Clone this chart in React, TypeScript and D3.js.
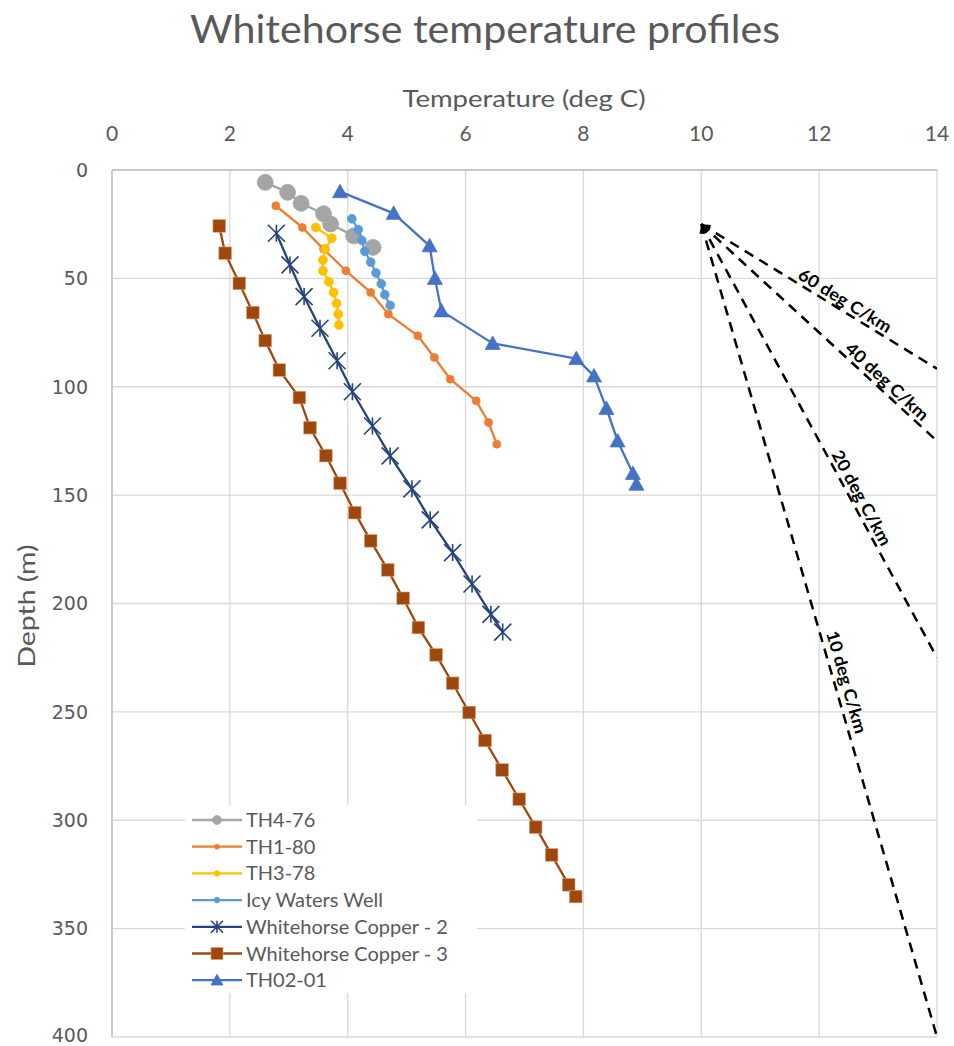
import React from "react";
import * as d3 from "d3";

const W = 954;
const H = 1046;
const margin = { top: 170, right: 17, bottom: 9, left: 112 };

// temperature (deg C) vs depth (m)
const th476Temp = [2.6, 2.98, 3.21, 3.59, 3.71, 4.1, 4.43];
const th476Depth = [5.7, 10.3, 15.4, 20.2, 24.9, 30.4, 35.7];

const th180Temp = [2.78, 3.23, 3.59, 3.97, 4.39, 4.69, 5.19, 5.47, 5.74, 6.18, 6.39, 6.53];
const th180Depth = [16.5, 26.5, 36.5, 46.5, 56.5, 66.5, 76.5, 86.5, 96.5, 106.5, 116.5, 126.5];

const th378Temp = [3.46, 3.73, 3.62, 3.58, 3.58, 3.68, 3.76, 3.81, 3.84, 3.85];
const th378Depth = [26.5, 31.5, 36.5, 41.5, 46.5, 51.5, 56.5, 61.5, 66.5, 71.5];

const icyTemp = [4.07, 4.18, 4.24, 4.29, 4.39, 4.48, 4.57, 4.63, 4.72];
const icyDepth = [22.5, 27.5, 32.5, 37.5, 42.5, 47.5, 52.5, 57.5, 62.5];

const wc2Temp = [2.79, 3.02, 3.26, 3.53, 3.82, 4.08, 4.42, 4.72, 5.09, 5.4, 5.78, 6.11, 6.43, 6.63];
const wc2Depth = [29.2, 43.8, 58.4, 73.0, 88.0, 102.3, 118.1, 131.9, 147.1, 161.4, 176.5, 191.0, 205.0, 213.2];

const wc3Temp = [1.82, 1.92, 2.16, 2.39, 2.6, 2.84, 3.18, 3.36, 3.63, 3.87, 4.12, 4.39, 4.68, 4.94, 5.2, 5.5, 5.78, 6.06, 6.33, 6.62, 6.91, 7.19, 7.46, 7.75, 7.87];
const wc3Depth = [25.8, 38.4, 52.3, 65.8, 78.7, 92.3, 105.0, 118.9, 131.8, 144.5, 158.1, 171.1, 184.5, 197.6, 211.1, 223.7, 236.8, 250.3, 263.2, 276.8, 290.3, 303.2, 316.0, 329.8, 335.2];

const th0201Temp = [3.87, 4.78, 5.39, 5.48, 5.59, 6.46, 7.88, 8.18, 8.39, 8.58, 8.84, 8.9];
const th0201Depth = [10, 20, 35, 50, 65, 80, 87, 95, 110, 125, 140, 145];

// reference gradients drawn from (10 C, 25 m)
const gradLabels = ["60 deg C/km", "40 deg C/km", "20 deg C/km", "10 deg C/km"];
const gradStart = [10, 25];
const gradEndTemp = [14, 14, 14, 14];
const gradEndDepth = [91.7, 125, 225, 400];
const gradLabelTemp = [12.35, 13.04, 12.57, 12.27];

const xTicks = [0, 2, 4, 6, 8, 10, 12, 14];
const yTicks = [0, 50, 100, 150, 200, 250, 300, 350, 400];

type Marker = "circle" | "star" | "square" | "triangle";

const series = [
  { name: "TH4-76", temp: th476Temp, depth: th476Depth, color: "#A5A5A5", marker: "circle" as Marker, size: 8, legendSize: 4.5 },
  { name: "TH1-80", temp: th180Temp, depth: th180Depth, color: "#ED7D31", marker: "circle" as Marker, size: 4, legendSize: 2.5 },
  { name: "TH3-78", temp: th378Temp, depth: th378Depth, color: "#FFC000", marker: "circle" as Marker, size: 4.5, legendSize: 2.8 },
  { name: "Icy Waters Well", temp: icyTemp, depth: icyDepth, color: "#5B9BD5", marker: "circle" as Marker, size: 4.4, legendSize: 2.8 },
  { name: "Whitehorse Copper - 2", temp: wc2Temp, depth: wc2Depth, color: "#264478", marker: "star" as Marker, size: 8.5, legendSize: 6 },
  { name: "Whitehorse Copper - 3", temp: wc3Temp, depth: wc3Depth, color: "#9E480E", marker: "square" as Marker, size: 6.3, legendSize: 6 },
  { name: "TH02-01", temp: th0201Temp, depth: th0201Depth, color: "#4472C4", marker: "triangle" as Marker, size: 7.5, legendSize: 6 },
];

const FONT = "Lato, 'Open Sans', sans-serif";
const GREY = "#595959";

function MarkerShape({ type, x, y, s, color }: { type: Marker; x: number; y: number; s: number; color: string }) {
  if (type === "circle") return <circle cx={x} cy={y} r={s} fill={color} stroke={color} strokeWidth={0.75} />;
  if (type === "square")
    return <rect x={x - s} y={y - s} width={2 * s} height={2 * s} fill={color} stroke="#d9a07a" strokeWidth={0.6} />;
  if (type === "triangle")
    return <path d={`M${x},${y - s}L${x + s},${y + s * 0.8}L${x - s},${y + s * 0.8}Z`} fill={color} stroke={color} strokeWidth={0.75} />;
  const d = s;
  return (
    <path
      d={`M${x - d},${y - d}L${x + d},${y + d}M${x - d},${y + d}L${x + d},${y - d}M${x},${y - d}L${x},${y + d}`}
      stroke={color}
      strokeWidth={1.6}
      fill="none"
    />
  );
}

export default function App() {
  const innerW = W - margin.left - margin.right;
  const innerH = H - margin.top - margin.bottom;
  const x = d3.scaleLinear().domain([0, 14]).range([margin.left, margin.left + innerW]);
  const y = d3.scaleLinear().domain([0, 400]).range([margin.top, margin.top + innerH]);

  const line = d3
    .line<[number, number]>()
    .x((d) => x(d[0]))
    .y((d) => y(d[1]));

  const legendX = 185;
  const legendY = 805;
  const rowH = 26.7;

  return (
    <svg width={W} height={H} style={{ position: "absolute", left: 0, top: 0, background: "#fff" }}>
      <defs>
        <marker id="arrow" viewBox="0 0 10 10" refX="10" refY="5" markerWidth="4" markerHeight="3.6" orient="auto-start-reverse">
          <path d="M0,0L10,5L0,10Z" fill="#000" />
        </marker>
        <clipPath id="plot">
          <rect x={margin.left} y={margin.top} width={innerW} height={innerH} />
        </clipPath>
      </defs>
      <rect width={W} height={H} fill="#fff" />

      {/* title */}
      <text x={485} y={43} textAnchor="middle" fontFamily={FONT} fontSize={38} fill={GREY} textLength={590} lengthAdjust="spacingAndGlyphs">
        Whitehorse temperature profiles
      </text>

      {/* grid */}
      {xTicks.map((t) => (
        <line key={"gx" + t} x1={x(t)} x2={x(t)} y1={y(0)} y2={y(400)} stroke="#D9D9D9" strokeWidth={1.3} />
      ))}
      {yTicks.map((t) => (
        <line key={"gy" + t} x1={x(0)} x2={x(14)} y1={y(t)} y2={y(t)} stroke="#D9D9D9" strokeWidth={1.3} />
      ))}
      <line x1={x(0)} x2={x(0)} y1={y(0)} y2={y(400)} stroke="#BFBFBF" strokeWidth={1.3} />
      <line x1={x(0)} x2={x(14)} y1={y(0)} y2={y(0)} stroke="#BFBFBF" strokeWidth={1.3} />

      {/* axis tick labels */}
      {xTicks.map((t) => (
        <text key={"tx" + t} x={x(t)} y={141} textAnchor="middle" fontFamily={FONT} fontSize={21} fill={GREY}>
          {t}
        </text>
      ))}
      {yTicks.map((t) => (
        <text
          key={"ty" + t}
          x={88}
          y={Math.min(y(t), 1035)}
          dy="0.36em"
          textAnchor="end"
          fontFamily="'DejaVu Sans', sans-serif"
          fontSize={19}
          fill={GREY}
        >
          {t}
        </text>
      ))}

      <text x={524} y={107} textAnchor="middle" fontFamily={FONT} fontSize={23} fill={GREY} textLength={243} lengthAdjust="spacingAndGlyphs">
        Temperature (deg C)
      </text>
      <text
        transform={`translate(35,606) rotate(-90)`}
        textAnchor="middle"
        fontFamily={FONT}
        fontSize={23}
        fill={GREY}
        textLength={123}
        lengthAdjust="spacingAndGlyphs"
      >
        Depth (m)
      </text>

      {/* gradient reference lines */}
      <g clipPath="url(#plot)">
        {gradLabels.map((g, i) => (
          <path
            key={g}
            d={line([
              [gradStart[0], gradStart[1]],
              [gradEndTemp[i], gradEndDepth[i]],
            ])!}
            stroke="#000"
            strokeWidth={2.5}
            strokeDasharray="10,7"
            fill="none"
            markerStart="url(#arrow)"
          />
        ))}
      </g>
      {gradLabels.map((g, i) => {
        const x0 = x(gradStart[0]);
        const y0 = y(gradStart[1]);
        const x1 = x(gradEndTemp[i]);
        const y1 = y(gradEndDepth[i]);
        const ang = (Math.atan2(y1 - y0, x1 - x0) * 180) / Math.PI;
        const lx = x(gradLabelTemp[i]);
        const ly = y0 + ((lx - x0) * (y1 - y0)) / (x1 - x0);
        return (
          <text
            key={"l" + g}
            transform={`translate(${lx},${ly}) rotate(${ang})`}
            textAnchor="middle"
            dy={i === 3 ? -6 : -4}
            fontFamily={FONT}
            fontWeight={700}
            fontSize={17}
            fill="#000"
            textLength={106}
            lengthAdjust="spacingAndGlyphs"
          >
            {g}
          </text>
        );
      })}

      {/* series */}
      {series.map((s) => {
        const pts = s.temp.map((t, i) => [t, s.depth[i]] as [number, number]);
        return (
          <g key={s.name}>
            <path d={line(pts)!} stroke={s.color} strokeWidth={2.3} fill="none" strokeLinejoin="round" />
            {pts.map((p, i) => (
              <MarkerShape key={i} type={s.marker} x={x(p[0])} y={y(p[1])} s={s.size} color={s.color} />
            ))}
          </g>
        );
      })}

      {/* legend */}
      <rect x={legendX} y={legendY} width={292} height={188} fill="#fff" />
      {series.map((s, i) => {
        const cy = legendY + 15 + i * rowH;
        return (
          <g key={"lg" + s.name}>
            <line x1={192} x2={242} y1={cy} y2={cy} stroke={s.color} strokeWidth={2.3} />
            <MarkerShape type={s.marker} x={217} y={cy} s={s.legendSize} color={s.color} />
            <text x={246} y={cy} dy="0.35em" fontFamily={FONT} fontSize={20} fill={GREY}>
              {s.name}
            </text>
          </g>
        );
      })}
    </svg>
  );
}
